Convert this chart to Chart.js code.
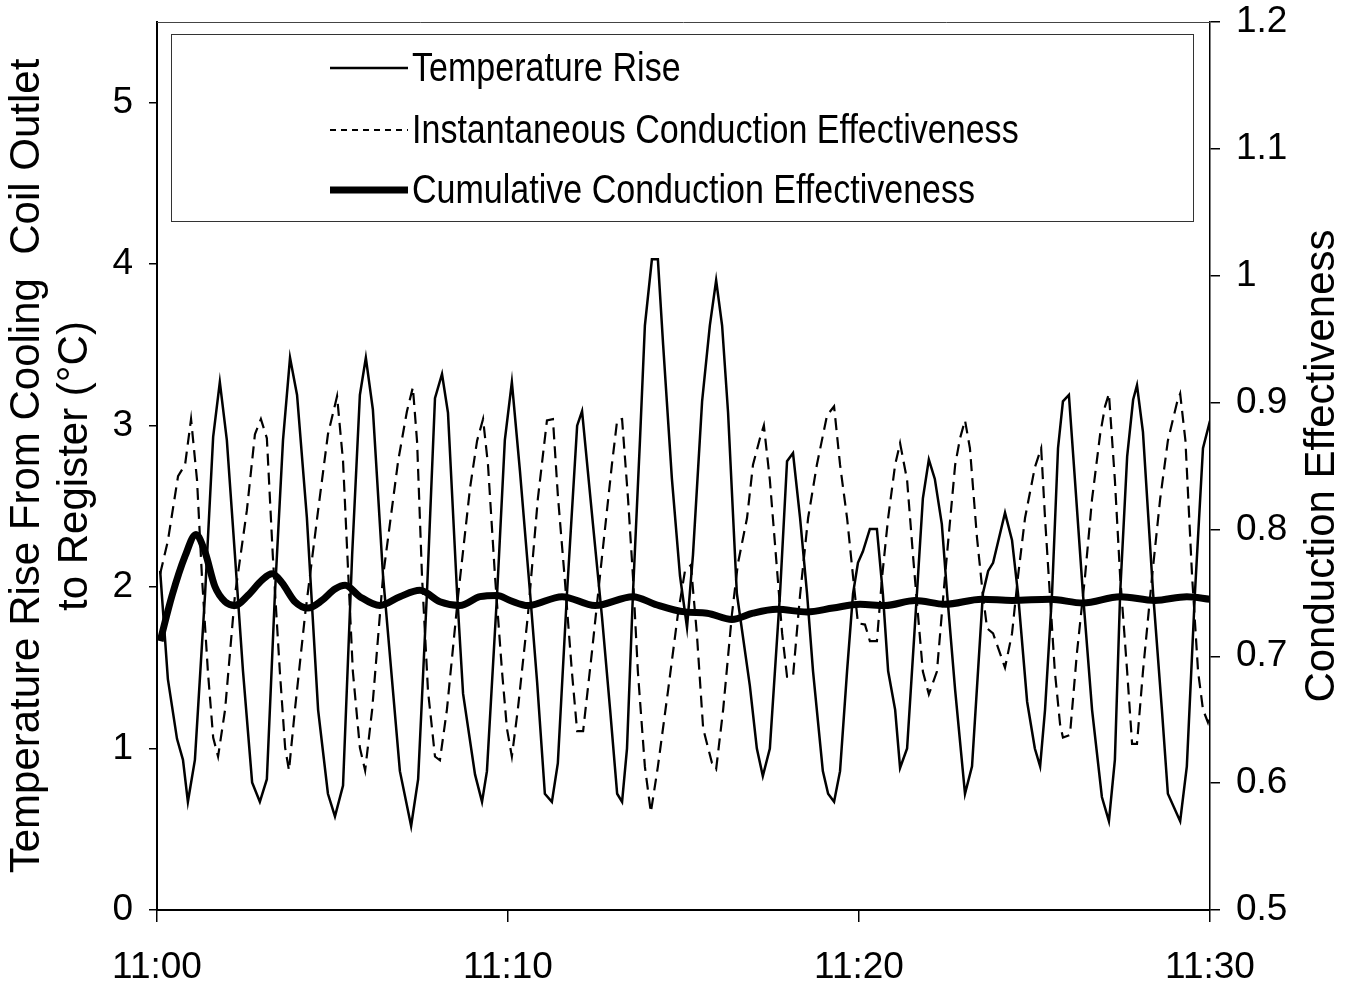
<!DOCTYPE html>
<html>
<head>
<meta charset="utf-8">
<script src="https://cdn.jsdelivr.net/npm/chart.js@4.4.1/dist/chart.umd.min.js"></script>
<style>
    html, body { margin: 0; padding: 0; background: #fff; }
    #wrap { width: 1356px; height: 1003px; }
</style>
</head>
<body>
<div id="wrap"><canvas id="chart" width="1356" height="1003"></canvas></div>
<script>
// times are minutes after 11:00
const riseTime = [
    0.09, 0.31, 0.57, 0.74, 0.88, 1.08, 1.37, 1.6, 1.79, 1.99, 2.22, 2.45, 2.71, 2.93, 3.13, 3.36, 3.59, 3.79, 3.99,
    4.27, 4.59, 4.87, 5.07, 5.3, 5.56, 5.78, 5.95, 6.15, 6.44, 6.92, 7.24, 7.44, 7.69, 7.92, 8.12, 8.29, 8.55, 8.72,
    9.06, 9.26, 9.4, 9.69, 9.91, 10.11, 10.34, 10.63, 10.83, 11.05, 11.25, 11.42, 11.68, 11.97, 12.11, 12.42, 12.68,
    12.91, 13.11, 13.25, 13.39, 13.56, 13.76, 13.9, 14.1, 14.27, 14.42, 14.67, 14.9, 15.1, 15.27, 15.53, 15.75, 15.93,
    16.1, 16.27, 16.52, 16.89, 17.09, 17.26, 17.46, 17.75, 17.95, 18.12, 18.32, 18.52, 18.69, 18.97, 19.12, 19.29,
    19.46, 19.66, 19.83, 19.97, 20.11, 20.31, 20.51, 20.68, 20.83, 21.03, 21.17, 21.37, 21.65, 21.82, 21.99, 22.16,
    22.36, 22.51, 22.74, 23.02, 23.22, 23.53, 23.68, 23.82, 24.16, 24.36, 24.53, 24.79, 25.01, 25.16, 25.3, 25.5,
    25.67, 25.81, 25.98, 26.15, 26.38, 26.64, 26.92, 27.12, 27.29, 27.44, 27.64, 27.81, 27.92, 28.09, 28.38, 28.63,
    28.8, 29.15, 29.34, 29.57, 29.8, 30.0,
];
const riseValue = [
    2.1, 1.43, 1.06, 0.93, 0.67, 0.93, 1.96, 2.93, 3.27, 2.91, 2.2, 1.48, 0.79, 0.67, 0.81, 1.96, 2.91, 3.42, 3.19,
    2.43, 1.24, 0.72, 0.58, 0.77, 2.2, 3.19, 3.42, 3.1, 2.07, 0.86, 0.52, 0.81, 1.96, 3.17, 3.32, 3.08, 1.96, 1.34,
    0.84, 0.67, 0.86, 1.96, 2.91, 3.27, 2.72, 1.96, 1.41, 0.72, 0.67, 0.91, 1.96, 3.0, 3.09, 2.39, 1.81,
    1.24, 0.72, 0.67, 1.0, 1.96, 2.91, 3.62, 4.03, 4.03, 3.5, 2.67, 2.07, 1.75, 2.2, 3.15, 3.62, 3.9,
    3.62, 3.08, 1.96, 1.39, 1.0, 0.83, 1.0, 1.96, 2.78, 2.83, 2.43, 1.96, 1.48, 0.86, 0.72, 0.67,
    0.86, 1.48, 1.96, 2.15, 2.22, 2.36, 2.36, 1.96, 1.48, 1.24, 0.88, 1.0, 1.96, 2.55, 2.79, 2.67,
    2.39, 1.96, 1.36, 0.72, 0.89, 1.96, 2.1, 2.15, 2.46, 2.29, 1.96, 1.29, 1.0, 0.89, 1.24, 1.96,
    2.86, 3.15, 3.19, 2.67, 1.96, 1.24, 0.7, 0.55, 0.93, 1.96, 2.81, 3.16, 3.25, 2.96, 1.96, 1.24,
    0.72, 0.55, 0.89, 1.96, 2.86, 3.03,
];

const instTime = [
    0.09, 0.31, 0.6, 0.8, 0.97, 1.14, 1.28, 1.45, 1.6, 1.74, 1.94, 2.22, 2.56, 2.79, 2.96, 3.13, 3.3, 3.5, 3.65, 3.76,
    3.93, 4.22, 4.59, 4.87, 5.13, 5.3, 5.44, 5.58, 5.78, 5.93, 6.13, 6.44, 6.87, 7.12, 7.29, 7.41, 7.55, 7.72, 7.92,
    8.06, 8.26, 8.58, 8.92, 9.12, 9.29, 9.43, 9.63, 9.83, 9.97, 10.11, 10.28, 10.57, 10.85, 11.11, 11.28, 11.42,
    11.62, 11.82, 11.97, 12.14, 12.39, 12.68, 12.96, 13.11, 13.25, 13.42, 13.56, 13.7, 13.9, 14.07, 14.27, 14.56,
    14.84, 15.04, 15.21, 15.38, 15.56, 15.81, 15.93, 16.13, 16.38, 16.55, 16.81, 16.98, 17.18, 17.29, 17.46, 17.66,
    17.81, 17.95, 18.12, 18.32, 18.55, 18.8, 19.09, 19.29, 19.46, 19.66, 19.83, 19.97, 20.17, 20.31, 20.51, 20.66,
    20.83, 21.03, 21.17, 21.37, 21.54, 21.68, 21.82, 21.99, 22.22, 22.45, 22.74, 22.88, 23.02, 23.16, 23.36, 23.53,
    23.65, 23.82, 24.16, 24.36, 24.53, 24.73, 25.01, 25.19, 25.3, 25.44, 25.58, 25.73, 25.81, 26.01, 26.21, 26.44,
    26.64, 26.87, 27.01, 27.12, 27.29, 27.44, 27.64, 27.78, 27.92, 28.09, 28.35, 28.58, 28.8, 29.06, 29.15, 29.3,
    29.49, 29.66, 29.8, 29.94, 30.0,
];
const instValue = [
    0.765, 0.791, 0.842, 0.851, 0.887, 0.839, 0.763, 0.688, 0.636, 0.621, 0.658, 0.748, 0.815, 0.875, 0.887, 0.872,
    0.779, 0.688, 0.628, 0.61, 0.658, 0.733, 0.815, 0.875, 0.905, 0.854, 0.77, 0.688, 0.628, 0.61, 0.658, 0.763,
    0.854, 0.893, 0.912, 0.869, 0.763, 0.673, 0.621, 0.618, 0.658, 0.748, 0.833, 0.87, 0.887, 0.851, 0.763, 0.688,
    0.643, 0.621, 0.658, 0.733, 0.824, 0.886, 0.887, 0.827, 0.76, 0.688, 0.641, 0.641, 0.703, 0.779, 0.851, 0.886,
    0.887, 0.824, 0.763, 0.688, 0.613, 0.577, 0.613, 0.673, 0.733, 0.767, 0.772, 0.718, 0.643, 0.616, 0.611, 0.658,
    0.733, 0.773, 0.809, 0.851, 0.872, 0.882, 0.839, 0.77, 0.718, 0.684, 0.684, 0.748, 0.809, 0.851, 0.89, 0.897,
    0.851, 0.809, 0.763, 0.726, 0.725, 0.712, 0.712, 0.763, 0.809, 0.851, 0.868, 0.839, 0.779, 0.733, 0.688, 0.67,
    0.688, 0.763, 0.851, 0.872, 0.886, 0.864, 0.794, 0.748, 0.722, 0.718, 0.691, 0.718, 0.763, 0.809, 0.849, 0.864,
    0.809, 0.748, 0.688, 0.646, 0.636, 0.638, 0.703, 0.763, 0.824, 0.875, 0.897, 0.907, 0.839, 0.763, 0.688, 0.631,
    0.631, 0.688, 0.763, 0.824, 0.87, 0.9, 0.907, 0.87, 0.763, 0.688, 0.658, 0.648, 0.655,
];

const cumTime = [
    0.09, 0.43, 0.8, 1.11, 1.37, 1.65, 1.94, 2.22, 2.59, 2.99, 3.28, 3.56, 3.93, 4.3, 4.7, 5.07, 5.36, 5.78, 6.35,
    6.92, 7.49, 8.06, 8.63, 9.2, 9.69, 10.06, 10.57, 11.54, 12.48, 13.56, 14.19, 15.04, 15.67, 16.38, 16.98, 17.66,
    18.52, 19.26, 20.03, 20.74, 21.6, 22.45, 23.5, 24.36, 25.44, 26.38, 27.44, 28.43, 29.34, 30.0,
];
const cumValue = [
    0.712, 0.748, 0.779, 0.796, 0.782, 0.755, 0.743, 0.74, 0.748, 0.76, 0.765, 0.758, 0.743, 0.738, 0.744, 0.753,
    0.756, 0.747, 0.74, 0.747, 0.752, 0.743, 0.74, 0.747, 0.748, 0.744, 0.74, 0.747, 0.74, 0.747, 0.741, 0.735,
    0.734, 0.729, 0.734, 0.737, 0.735, 0.738, 0.741, 0.74, 0.744, 0.741, 0.745, 0.744, 0.745, 0.742, 0.747, 0.744,
    0.747, 0.745,
];

const xTicks = [0, 10, 20, 30];
const leftTitle = ["Temperature Rise From Cooling  Coil Outlet", "to Register (°C)"];
const rightTitle = "Conduction Effectiveness";

const FONT = "'Liberation Sans', Arial, Helvetica, sans-serif";

function pairs(times, values) {
    return times.map((t, i) => ({ x: t, y: values[i] }));
}

// legend box, top frame line and the right axis title (reads bottom to top)
const decorations = {
    id: "decorations",
    afterDraw(chart) {
        const { ctx, chartArea } = chart;
        ctx.save();
        ctx.strokeStyle = "#444";
        ctx.lineWidth = 1;
        ctx.beginPath();
        ctx.moveTo(chartArea.left, chartArea.top + 0.5);
        ctx.lineTo(chartArea.right, chartArea.top + 0.5);
        ctx.stroke();

        ctx.translate(1322, (chartArea.top + chartArea.bottom) / 2);
        ctx.rotate(-Math.PI / 2);
        ctx.fillStyle = "#000";
        ctx.font = `42px ${FONT}`;
        ctx.textAlign = "center";
        ctx.textBaseline = "middle";
        ctx.fillText(rightTitle, 0, 0);
        ctx.restore();

        ctx.save();
        ctx.fillStyle = "#fff";
        ctx.fillRect(171, 34, 1022, 187);
        ctx.strokeStyle = "#333";
        ctx.lineWidth = 1;
        ctx.strokeRect(171.5, 34.5, 1022, 187);
        const rows = [68, 130, 190];
        chart.data.datasets.forEach((ds, i) => {
            const y = rows[i];
            ctx.strokeStyle = ds.borderColor;
            ctx.lineWidth = ds.borderWidth;
            ctx.setLineDash(ds.borderDash ? [6, 5] : []);
            ctx.beginPath();
            ctx.moveTo(330, y);
            ctx.lineTo(408, y);
            ctx.stroke();
            ctx.setLineDash([]);
            ctx.save();
            ctx.translate(412, y);
            ctx.scale(0.83, 1);
            ctx.fillStyle = "#000";
            ctx.font = `41px ${FONT}`;
            ctx.textAlign = "left";
            ctx.textBaseline = "middle";
            ctx.fillText(ds.label, 0, 2);
            ctx.restore();
        });
        ctx.restore();
    },
};

// plot box edges are fixed: left 157, right 1210, top 22, bottom 910
function fixVertical(width) {
    return (s) => {
        s.width = width;
        s.paddingTop = 22;
        s.paddingBottom = 0;
    };
}

new Chart(document.getElementById("chart"), {
    type: "line",
    data: {
        datasets: [
            {
                label: "Temperature Rise",
                data: pairs(riseTime, riseValue),
                yAxisID: "y",
                borderColor: "#000",
                borderWidth: 2.5,
                pointRadius: 0,
                tension: 0,
            },
            {
                label: "Instantaneous Conduction Effectiveness",
                data: pairs(instTime, instValue),
                yAxisID: "y1",
                borderColor: "#000",
                borderWidth: 2.2,
                borderDash: [12, 7],
                pointRadius: 0,
                tension: 0,
            },
            {
                label: "Cumulative Conduction Effectiveness",
                data: pairs(cumTime, cumValue),
                yAxisID: "y1",
                borderColor: "#000",
                borderWidth: 7,
                pointRadius: 0,
                cubicInterpolationMode: "monotone",
            },
        ],
    },
    options: {
        responsive: false,
        animation: false,
        layout: { padding: 0 },
        plugins: { legend: { display: false }, tooltip: { enabled: false } },
        scales: {
            x: {
                type: "linear",
                min: 0,
                max: 30,
                afterBuildTicks: (s) => {
                    s.ticks = xTicks.map((v) => ({ value: v }));
                },
                afterFit: (s) => {
                    s.height = 93;
                },
                ticks: {
                    callback: (v) => "11:" + String(v).padStart(2, "0"),
                    font: { family: FONT, size: 37 },
                    color: "#000",
                    padding: 24,
                    maxRotation: 0,
                },
                grid: { drawOnChartArea: false, drawTicks: true, tickLength: 12, color: "#000", lineWidth: 1.5 },
                border: { display: true, color: "#000", width: 2 },
            },
            y: {
                position: "left",
                min: 0,
                max: 5.5,
                afterBuildTicks: (s) => {
                    s.ticks = s.ticks.filter((t) => Number.isInteger(t.value));
                },
                afterFit: fixVertical(157),
                ticks: { stepSize: 1, font: { family: FONT, size: 37 }, color: "#000", padding: 16 },
                grid: { drawOnChartArea: false, drawTicks: true, tickLength: 8, color: "#000", lineWidth: 1.5 },
                border: { display: true, color: "#000", width: 2 },
                title: {
                    display: true,
                    text: leftTitle,
                    color: "#000",
                    font: { family: FONT, size: 42, lineHeight: 1.15 },
                    padding: { top: 3, bottom: 0 },
                },
            },
            y1: {
                position: "right",
                min: 0.5,
                max: 1.2,
                afterFit: fixVertical(146),
                ticks: {
                    stepSize: 0.1,
                    callback: (v) => String(Math.round(v * 10) / 10),
                    font: { family: FONT, size: 37 },
                    color: "#000",
                    padding: 16,
                },
                grid: { drawOnChartArea: false, drawTicks: true, tickLength: 10, color: "#000", lineWidth: 1.5 },
                border: { display: true, color: "#000", width: 1.5 },
            },
        },
    },
    plugins: [decorations],
});
</script>
</body>
</html>
